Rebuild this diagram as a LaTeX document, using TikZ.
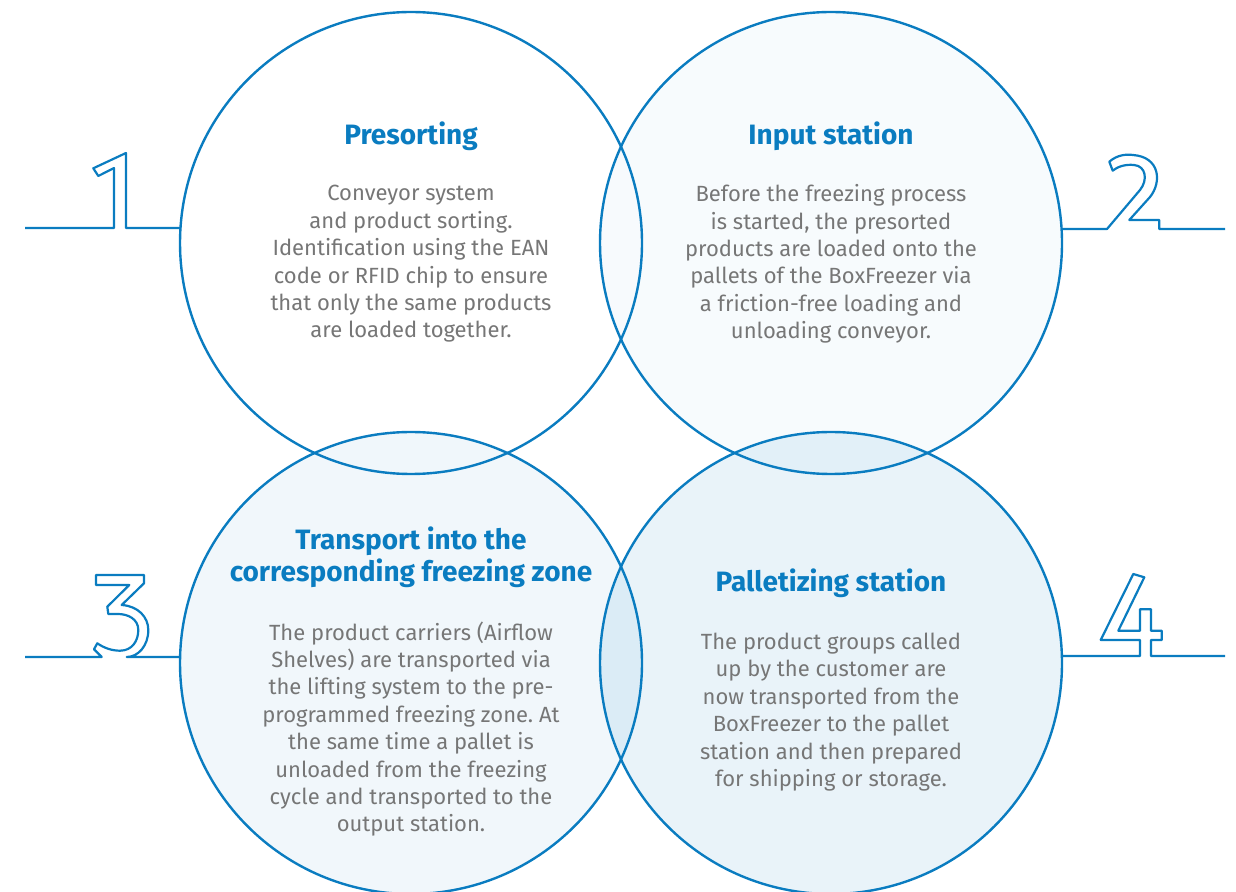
\documentclass[tikz,border=0pt]{standalone}
\usepackage{fontspec}
\setmainfont{Fira Sans}
\frenchspacing
\usetikzlibrary{calc}
\usetikzlibrary{positioning}
\definecolor{ringblue}{RGB}{10,124,192}
\definecolor{bodygray}{RGB}{118,118,118}
\tikzset{
  ring/.style={circle, draw=ringblue, line width=1.2pt, minimum size=231pt, inner sep=0pt, outer sep=0pt},
  heading/.style={text=ringblue, font=\bfseries\fontsize{14}{16}\selectfont, align=center},
  blurb/.style={text=bodygray, font=\fontsize{11}{13.7}\selectfont, align=center},
  numline/.style={draw=ringblue, line width=1.1pt, line join=round}
}

\begin{document}
\begin{tikzpicture}[x=0.5pt, y=-0.5pt]
  \useasboundingbox (0,0) rectangle (1236,892);
  \node[ring, fill=white] (c1) at (411,243) {};
  \node[ring, fill=ringblue, fill opacity=.03] (c2) at (831,243) {};
  \node[ring, fill=ringblue, fill opacity=.06] (c3) at (411,663) {};
  \node[ring, fill=ringblue, fill opacity=.09] (c4) at (831,663) {};

  \node[heading] (h1) at (411,136) {Presorting};
  \node[blurb] (b1) at (411,264) {Conveyor system\\ and product sorting.\\ Identification using the EAN\\ code or RFID chip to ensure\\ that only the same products\\ are loaded together.};
  \node[heading] (h2) at (831,136) {Input station};
  \node[blurb] (b2) at (831,264) {Before the freezing process\\ is started, the presorted\\ products are loaded onto the\\ pallets of the BoxFreezer via\\ a friction-free loading and\\ unloading conveyor.};
  \node[heading] (h3) at (411,557) {Transport into the\\ corresponding freezing zone};
  \node[blurb] (b3) at (411,729) {The product carriers (Airflow\\ Shelves) are transported via\\ the lifting system to the pre-\\ programmed freezing zone. At\\ the same time a pallet is\\ unloaded from the freezing\\ cycle and transported to the\\ output station.};
  \node[heading] (h4) at (831,583) {Palletizing station};
  \node[blurb] (b4) at (831,712) {The product groups called\\ up by the customer are\\ now transported from the\\ BoxFreezer to the pallet\\ station and then prepared\\ for shipping or storage.};

  \coordinate (l1) at (25,228);
  \coordinate (l2) at (1225,229);
  \coordinate (l3) at (25,657);
  \coordinate (l4) at (1225,656);

  \draw[numline] (l1) -- (114,228) -- (114,168) -- (98.3,176) -- (93.3,168.3) -- (126,153) -- (126,228) -- (c1.west |- l1);
  \draw[numline] (c2.east |- l2) -- (1107,229) -- (1140,190) .. controls (1148,180) and (1146,166) .. (1134,165)
    .. controls (1125,164) and (1117,167) .. (1112.7,170.7) -- (1109.3,161.7)
    .. controls (1117,155) and (1126,154) .. (1133,155) .. controls (1160,157) and (1162,182) .. (1150,197)
    -- (1129.3,220) -- (1159.3,220) -- (1159.3,229) -- (l2);
  \draw[numline] (l3) -- (101.7,657) -- (94,649.3) -- (97.3,643.3) .. controls (104,648) and (112,650.7) .. (120,650.7)
    .. controls (132,650.7) and (138.3,641) .. (138.3,630) .. controls (138.3,619) and (128,614) .. (118,614)
    -- (108.3,614) -- (107.3,606.7) -- (129.3,585) -- (96,585) -- (96,575) -- (144,575) -- (144,583.3) -- (121.7,605)
    .. controls (138,606) and (148.3,617) .. (148.3,630) .. controls (148.3,646) and (138,657) .. (126.7,657) -- (c3.west |- l3);
  \draw[numline] (c4.east |- l4) -- (1140,656) -- (1140,640) -- (1100.7,640) -- (1133.3,574) -- (1144.3,577.3) -- (1118.3,630.7)
    -- (1140,630.7) -- (1140,609.3) -- (1151,609.3) -- (1151,630.7) -- (1161.7,630.7) -- (1161.7,640) -- (1151,640)
    -- (1151,656) -- (l4);
\end{tikzpicture}
\end{document}
